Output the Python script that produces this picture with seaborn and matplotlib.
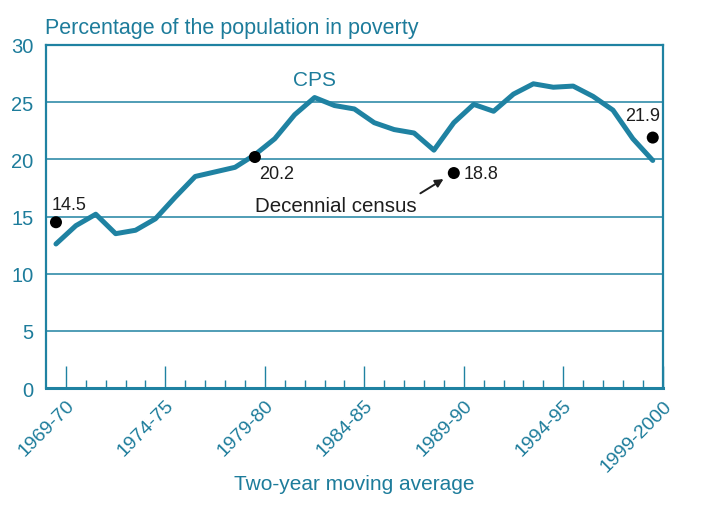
import numpy as np
import pandas as pd
import matplotlib
matplotlib.use('Agg')
import matplotlib.pyplot as plt
import seaborn as sns

# CPS two-year moving average, % of population in poverty
periods = [f'{y}-{str(y + 1)[-2:]}' for y in range(1969, 1999)] + ['1999-2000']
cps = [12.6, 14.2, 15.2, 13.5, 13.8, 14.8, 16.7, 18.5, 18.9, 19.3,
       20.4, 21.8, 23.9, 25.4, 24.7, 24.4, 23.2, 22.6, 22.3, 20.8,
       23.2, 24.8, 24.2, 25.7, 26.6, 26.3, 26.4, 25.5, 24.3, 21.8, 19.9]
# decennial census points
census_periods = ['1969-70', '1979-80', '1989-90', '1999-2000']
census = [14.5, 20.2, 18.8, 21.9]
label_periods = ['1969-70', '1974-75', '1979-80', '1984-85', '1989-90', '1994-95', '1999-2000']

teal = '#1f82a2'
teal_text = '#1d7c9b'
dark = '#1e1e1e'

sns.set_style('white')
plt.rcParams['font.family'] = ['Liberation Sans', 'DejaVu Sans']

df = pd.DataFrame({'idx': np.arange(len(periods)), 'period': periods, 'cps': cps})
cdf = pd.DataFrame({'idx': [periods.index(p) for p in census_periods], 'val': census})

fig = plt.figure(figsize=(7.08, 5.10), dpi=100)
ax = fig.add_axes([0.065, 0.237, 0.871, 0.673])

sns.lineplot(data=df, x='idx', y='cps', color=teal, linewidth=3.6, ax=ax, zorder=3)
sns.scatterplot(data=cdf, x='idx', y='val', color='black', s=75, edgecolor='none', ax=ax, zorder=4)

ax.set_xlim(-0.5, len(periods) - 0.5)
ax.set_ylim(0, 30)
ax.set_yticks(range(0, 31, 5))
for v in range(5, 30, 5):
    ax.axhline(v, color=teal, linewidth=1.1, zorder=1)

major = [periods.index(p) + 0.5 for p in label_periods]
major[-1] = len(periods) - 0.5
ax.set_xticks(major)
ax.set_xticklabels(label_periods, rotation=45, ha='right', rotation_mode='anchor',
                   fontsize=14, color=teal_text)
ax.set_xticks(np.arange(0.5, len(periods), 1), minor=True)
ax.tick_params(axis='x', which='both', bottom=True)
ax.tick_params(axis='x', which='major', direction='in', length=16, width=1.0, color=teal, pad=6)
ax.tick_params(axis='x', which='minor', direction='in', length=6, width=1.0, color=teal)
ax.tick_params(axis='y', length=0, labelsize=14.5, labelcolor=teal_text, pad=9)

for s in ax.spines.values():
    s.set_color(teal)
    s.set_linewidth(1.6)
ax.spines['bottom'].set_linewidth(2.2)

ax.set_xlabel('Two-year moving average', fontsize=15, color=teal_text, labelpad=0)
ax.set_ylabel('')
fig.text(0.064, 0.945, 'Percentage of the population in poverty', fontsize=15.5,
         color=teal_text, ha='left', va='center')

# labels for census points
offsets = [(-3, 13, 'left', 'center'), (3, -12, 'left', 'center'),
           (7, 0, 'left', 'center'), (5, 16, 'right', 'center')]
for i, v, (dx, dy, ha, va) in zip(cdf['idx'], census, offsets):
    ax.annotate(f'{v}', (i, v), xytext=(dx, dy), textcoords='offset points',
                ha=ha, va=va, fontsize=13, color=dark)

ax.text(13, 26.95, 'CPS', fontsize=15, color=teal_text, ha='center', va='center')
ax.text(10, 16.0, 'Decennial census', fontsize=14.8, color=dark, ha='left', va='center')
ax.annotate('', xy=(19.6, 18.4), xytext=(18.2, 16.9),
            arrowprops=dict(arrowstyle='-|>', color=dark, lw=1.4, mutation_scale=12))

fig.savefig('out.png', dpi=100)
